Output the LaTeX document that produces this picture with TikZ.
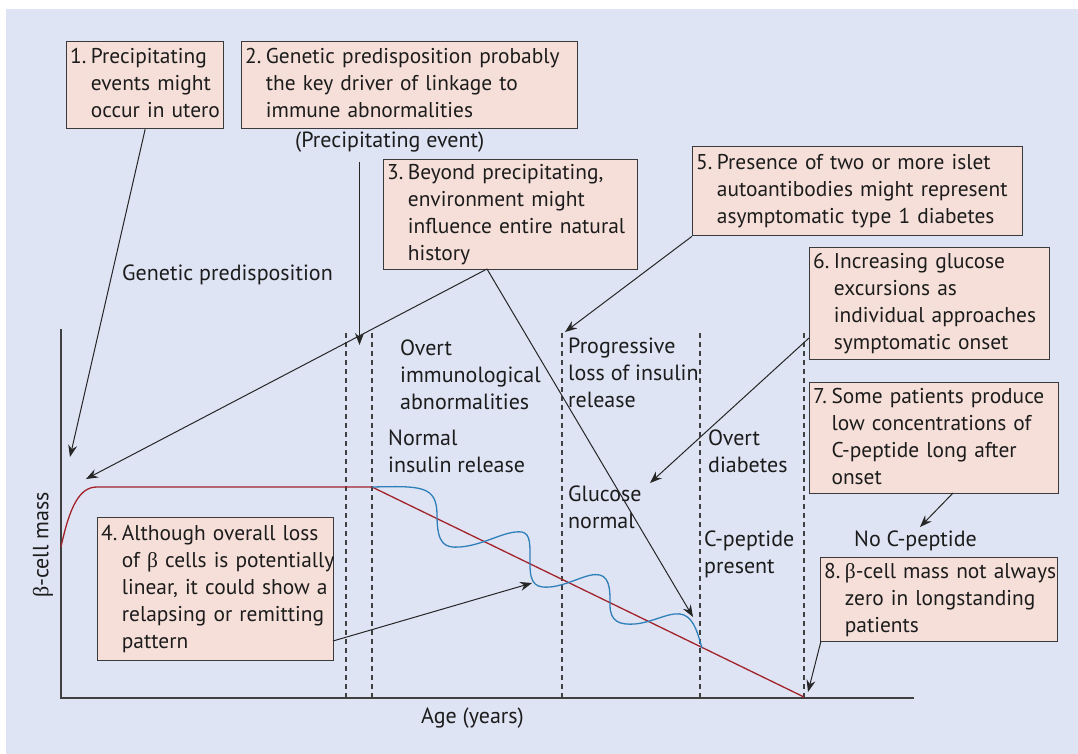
\documentclass[tikz,border=0pt]{standalone}
\usepackage{fontspec}
\setmainfont{PT Sans}
\newfontfamily\grk{Liberation Serif}
\usetikzlibrary{arrows.meta}
\definecolor{bgblue}{HTML}{DFE4F4}
\definecolor{boxfill}{HTML}{F5DFD8}
\definecolor{boxline}{HTML}{3A3A3A}
\definecolor{txtcol}{HTML}{1C1C1C}
\definecolor{redcurve}{HTML}{A3232B}
\definecolor{bluecurve}{HTML}{2F7FB8}
\newcommand{\bt}{{\grk β}}
\newcommand{\fsz}{\fontsize{21.4}{27}\selectfont}
\newcommand{\lfsz}{\fontsize{22}{27}\selectfont}
\newcommand{\numlines}[2]{\noindent\begin{tabular}[t]{@{}l@{\hspace{4.5pt}}l@{}}#1&\begin{tabular}[t]{@{}l@{}}#2\end{tabular}\end{tabular}}
\newcommand{\lines}[1]{\begin{tabular}[t]{@{}l@{}}#1\end{tabular}}
\tikzset{
  every node/.style={font=\fsz, text=txtcol},
  box/.style={draw=boxline, fill=boxfill, line width=1.3pt, inner xsep=3.5pt, inner ysep=0pt, anchor=north west, align=left},
  lbl/.style={inner sep=0pt, anchor=base west, font=\lfsz},
  arr/.style={-{Stealth[length=12pt,width=9pt,inset=4pt]}, line width=1pt, draw=black!85},
  vdash/.style={draw=black!75, line width=1.1pt, dash pattern=on 5pt off 4pt},
  axis/.style={draw=black!75, line width=1.5pt}
}
\begin{document}
\begin{tikzpicture}[x=1pt,y=-1pt]
\useasboundingbox (0,0) rectangle (1078,754);
\fill[bgblue] (6,9) rectangle (1078,754);

% axes
\coordinate (ytop) at (61,329);
\coordinate (orig) at (61,698);
\coordinate (xend) at (914,698);
\draw[axis] (ytop) -- (orig) -- (xend);

% dashed phase lines
\foreach \x in {346,372,562,700,804}{
  \draw[vdash] (\x,333) -- (\x,697);
}

% red curve
\draw[redcurve, line width=1.3pt] (61,547) .. controls (70,505) and (80,487) .. (97,487) -- (372,487) -- (804,697);
% blue curve
\draw[bluecurve, line width=1.3pt] (372,487) .. controls (420,486) and (437,485) .. (437,515)
 .. controls (437,545) and (445,548) .. (460,547)
 .. controls (485,545) and (505,530) .. (522,532)
 .. controls (531,534) and (530,545) .. (530,565)
 .. controls (530,585) and (537,588) .. (550,587)
 .. controls (570,585) and (588,572) .. (600,575)
 .. controls (611,578) and (610,595) .. (610,605)
 .. controls (610,622) and (620,625) .. (635,624)
 .. controls (655,622) and (672,610) .. (684,615)
 .. controls (695,620) and (698,635) .. (702,648);

% boxes
\node[box, minimum width=157pt, minimum height=87pt, text width=150pt] (b1) at (66,41)
 {\numlines{1.}{Precipitating\\events might\\occur in utero}};
\node[box, minimum width=336pt, minimum height=87pt, text width=329pt] (b2) at (241,41)
 {\numlines{2.}{Genetic predisposition probably\\the key driver of linkage to\\immune abnormalities}};
\node[box, minimum width=254pt, minimum height=110pt, text width=247pt] (b3) at (383,159)
 {\numlines{3.}{Beyond precipitating,\\environment might\\influence entire natural\\history}};
\node[box, minimum width=236pt, minimum height=143pt, text width=229pt] (b4) at (97,517)
 {\numlines{4.}{Although overall loss\\of \bt{} cells is potentially\\linear, it could show a\\relapsing or remitting\\pattern}};
\node[box, minimum width=330pt, minimum height=89pt, text width=323pt] (b5) at (692,146)
 {\numlines{5.}{Presence of two or more islet\\autoantibodies might represent\\asymptomatic type 1 diabetes}};
\node[box, minimum width=240pt, minimum height=112pt, text width=233pt] (b6) at (809,247)
 {\numlines{6.}{Increasing glucose\\excursions as\\individual approaches\\symptomatic onset}};
\node[box, minimum width=249pt, minimum height=111pt, text width=242pt] (b7) at (809,382)
 {\numlines{7.}{Some patients produce\\low concentrations of\\C-peptide long after\\onset}};
\node[box, minimum width=237pt, minimum height=84pt, text width=230pt] (b8) at (820,557)
 {\numlines{8.}{\bt-cell mass not always\\zero in longstanding\\patients}};

% plain labels
\node[lbl] (gp) at (122,280) {Genetic predisposition};
\node[lbl] (pe) at (295,148) {(Precipitating event)};
\node[lbl] (oia) at (400,355) {\lines{Overt\\immunological\\abnormalities}};
\node[lbl] (nir) at (388,445) {\lines{Normal\\insulin release}};
\node[lbl] (pli) at (568,353) {\lines{Progressive\\loss of insulin\\release}};
\node[lbl] (gn) at (568,501) {\lines{Glucose\\normal}};
\node[lbl] (od) at (708,445) {\lines{Overt\\diabetes}};
\node[lbl] (cpp) at (704,546) {\lines{C-peptide\\present}};
\node[lbl] (ncp) at (854,546) {No C-peptide};
\node[lbl] (age) at (421,723) {Age (years)};
\node[inner sep=0pt, rotate=90, font=\lfsz] (ylab) at (43,545) {\bt-cell mass};

% arrow end points
\coordinate (t1) at (70,457);
\coordinate (s2) at (359.5,162);
\coordinate (t2) at (359.5,345);
\coordinate (s3) at (487,269);
\coordinate (t3a) at (86,479);
\coordinate (t3b) at (693,617);
\coordinate (s4) at (333,641);
\coordinate (t4) at (532,583);
\coordinate (t5) at (565,332);
\coordinate (s6) at (809,338);
\coordinate (t6) at (650,483);
\coordinate (s7) at (953,493);
\coordinate (t7) at (920,527);
\coordinate (s8) at (821,641);
\coordinate (t8) at (808,692);

\draw[arr] (b1.south) -- (t1);
\draw[arr] (s2) -- (t2);
\draw[arr] (s3) -- (t3a);
\draw[arr] (s3) -- (t3b);
\draw[arr] (s4) -- (t4);
\draw[arr] (b5.south west) -- (t5);
\draw[arr] (s6) -- (t6);
\draw[arr] (s7) -- (t7);
\draw[arr] (s8) -- (t8);
\end{tikzpicture}
\end{document}
